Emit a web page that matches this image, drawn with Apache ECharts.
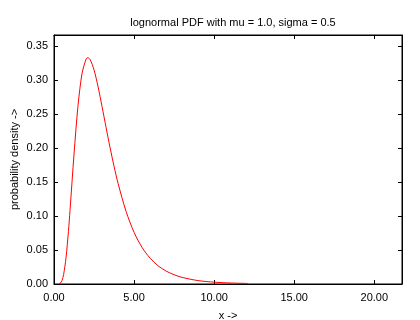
<html>
<head>
<meta charset="UTF-8">
<script src="https://cdn.jsdelivr.net/npm/echarts@6/dist/echarts.min.js"></script>
</head>
<body style="margin:0;">
<div id="chart" style="width:420px;height:320px;"></div>
<script type="text/javascript">
// values
var xs = [0.3, 0.4, 0.5, 0.6, 0.75, 0.9, 1.0, 1.25, 1.5, 1.75, 2.0, 2.1, 2.25, 2.5, 2.75, 3.0, 3.25, 3.5, 3.75, 4.0, 4.5, 5.0, 5.5, 6.0, 6.5, 7.0, 7.5, 8.0, 9.0, 10.0, 11.0, 12.1];
var ys = [0.0002, 0.0013, 0.0052, 0.0138, 0.0386, 0.0770, 0.1080, 0.1909, 0.2623, 0.3093, 0.3304, 0.3326, 0.3301, 0.3147, 0.2901, 0.2608, 0.2303, 0.2006, 0.1730, 0.1480, 0.1067, 0.0759, 0.0537, 0.0380, 0.0268, 0.0190, 0.0136, 0.0097, 0.0050, 0.0027, 0.0015, 0.0008];

var pts = []
for (var i = 0; i < xs.length; i++) {
    pts.push([xs[i], ys[i]])
}

var font = 'Liberation Sans, Arial, sans-serif'
var black = '#000'

var chart = echarts.init(document.getElementById('chart'));
var option = {
    animation: false,
    backgroundColor: '#fff',
    title: {
        text: 'lognormal PDF with mu = 1.0, sigma = 0.5',
        left: 228, top: 12, textAlign: 'center',
        textStyle: {fontSize: 11, fontWeight: 'normal', color: black, fontFamily: font}
    },
    grid: {left: 54, right: 18, top: 35, bottom: 36, outerBoundsMode: 'none', containLabel: false,
        show: true, borderColor: black, borderWidth: 1, backgroundColor: 'transparent'},
    xAxis: [{
        type: 'value', min: 0, max: 21.73, interval: 5,
        name: 'x ->', nameLocation: 'middle', nameGap: 26, nameMoveOverlap: false,
        nameTextStyle: {fontSize: 11, color: black, fontFamily: font},
        axisLine: {show: true, onZero: false, lineStyle: {color: black, width: 1}},
        axisTick: {show: true, inside: true, length: 4, lineStyle: {color: black}},
        axisLabel: {showMaxLabel: false, fontSize: 11, color: black, fontFamily: font, margin: 8,
            formatter: function (v) { return v.toFixed(2) }},
        splitLine: {show: false}
    }, {
        type: 'value', min: 0, max: 21.73, interval: 5, position: 'top',
        axisLine: {show: true, onZero: false, lineStyle: {color: black, width: 1}},
        axisTick: {show: true, inside: true, length: 4, lineStyle: {color: black}},
        axisLabel: {show: false},
        splitLine: {show: false}
    }],
    yAxis: [{
        type: 'value', min: 0, max: 0.366, interval: 0.05,
        name: 'probability density ->', nameLocation: 'middle', nameGap: 34, nameMoveOverlap: false,
        nameTextStyle: {fontSize: 11, color: black, fontFamily: font},
        axisLine: {show: true, onZero: false, lineStyle: {color: black, width: 1}},
        axisTick: {show: true, inside: true, length: 4, lineStyle: {color: black}},
        axisLabel: {showMaxLabel: false, fontSize: 11, color: black, fontFamily: font, margin: 6,
            formatter: function (v) { return v.toFixed(2) }},
        splitLine: {show: false}
    }, {
        type: 'value', min: 0, max: 0.366, interval: 0.05, position: 'right',
        axisLine: {show: true, onZero: false, lineStyle: {color: black, width: 1}},
        axisTick: {show: true, inside: true, length: 4, lineStyle: {color: black}},
        axisLabel: {show: false},
        splitLine: {show: false}
    }],
    series: [{
        type: 'line', data: pts, smooth: 0.3, showSymbol: false,
        lineStyle: {color: '#ff0000', width: 1}
    }, {
        type: 'line', data: [], xAxisIndex: 1, yAxisIndex: 1
    }]
};
chart.setOption(option);
</script>
</body>
</html>
